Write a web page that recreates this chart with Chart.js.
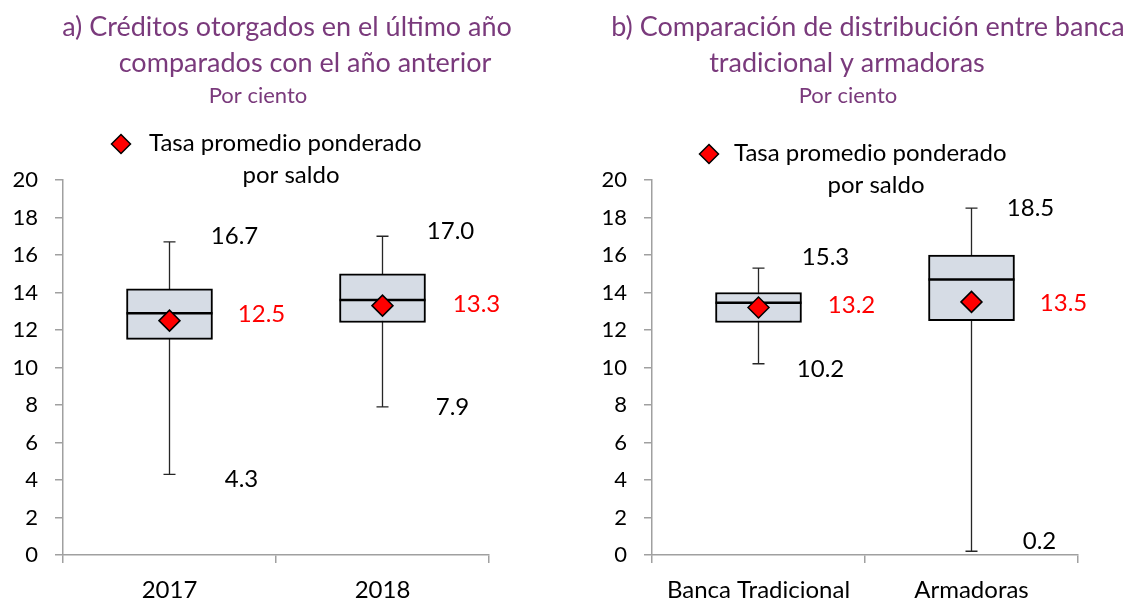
<!DOCTYPE html>
<html>
<head>
<meta charset="utf-8">
<script src="https://cdn.jsdelivr.net/npm/chart.js@4.4.1/dist/chart.umd.min.js"></script>
<style>
  html, body { margin: 0; padding: 0; background: #fff; }
  #wrap { display: flex; width: 1133px; height: 598px; overflow: hidden; }
  canvas { display: block; }
</style>
</head>
<body>
<div id="wrap">
  <canvas id="chartA" width="566" height="598"></canvas>
  <canvas id="chartB" width="567" height="598"></canvas>
</div>
<script>
// panel a) creditos del ultimo año vs año anterior
const catsA = ['2017', '2018'];
const minA = [4.3, 7.9];
const q1A = [11.5, 12.4];
const medA = [12.9, 13.6];
const q3A = [14.2, 15.0];
const maxA = [16.7, 17.0];
const meanA = [12.5, 13.3];

// panel b) banca tradicional vs armadoras
const catsB = ['Banca Tradicional', 'Armadoras'];
const minB = [10.2, 0.2];
const q1B = [12.4, 12.5];
const medB = [13.45, 14.7];
const q3B = [14.0, 16.0];
const maxB = [15.3, 18.5];
const meanB = [13.2, 13.5];

const yTicks = [0, 2, 4, 6, 8, 10, 12, 14, 16, 18, 20];

const titleA = ['a) Créditos otorgados en el último año', 'comparados con el año anterior', 'Por ciento'];
const titleB = ['b) Comparación de distribución entre banca', 'tradicional y armadoras', 'Por ciento'];
const legendText = ['Tasa promedio ponderado', 'por saldo'];

const FONT = 'Lato, "Open Sans", sans-serif';
const PURPLE = '#7a3a7c';
const GREY = '#a0a0a0';

// text offsets (px) for the value labels: [max, mean, min] per category
const labelOffA = [
  [[65, -6], [92, -6], [72, 5]],
  [[68, -5], [94, -1], [70, 0]]
];
const labelOffB = [
  [[67, -11], [93, -2], [62, 6]],
  [[59, 0], [92, 1], [68, -10]]
];

function diamond(ctx, x, y, r) {
  ctx.beginPath();
  ctx.moveTo(x, y - r); ctx.lineTo(x + r, y);
  ctx.lineTo(x, y + r); ctx.lineTo(x - r, y);
  ctx.closePath();
  ctx.fill(); ctx.stroke();
}

function makeBoxPlugin(st, layout) {
  return {
    id: 'boxParts',
    beforeDatasetsDraw(chart) {
      const ctx = chart.ctx, x = chart.scales.x, y = chart.scales.y;
      ctx.save();
      ctx.strokeStyle = '#262626';
      ctx.lineWidth = 1.3;
      st.min.forEach(function (v, i) {
        const cx = x.getPixelForValue(i);
        const yMin = y.getPixelForValue(st.min[i]);
        const yMax = y.getPixelForValue(st.max[i]);
        ctx.beginPath();
        ctx.moveTo(cx, yMin); ctx.lineTo(cx, yMax);
        ctx.moveTo(cx - 6, yMin); ctx.lineTo(cx + 6, yMin);
        ctx.moveTo(cx - 6, yMax); ctx.lineTo(cx + 6, yMax);
        ctx.stroke();
      });
      ctx.restore();
    },
    afterDatasetDraw(chart, args) {
      if (args.meta.type !== 'bar') return;
      const ctx = chart.ctx, y = chart.scales.y;
      ctx.save();
      ctx.strokeStyle = '#000';
      ctx.lineWidth = 2.5;
      args.meta.data.forEach(function (bar, i) {
        const py = y.getPixelForValue(st.med[i]);
        ctx.beginPath();
        ctx.moveTo(bar.x - bar.width / 2, py);
        ctx.lineTo(bar.x + bar.width / 2, py);
        ctx.stroke();
      });
      ctx.restore();
    },
    afterDraw(chart) {
      const ctx = chart.ctx, x = chart.scales.x, y = chart.scales.y;
      ctx.save();
      // titles
      ctx.fillStyle = PURPLE;
      ctx.textAlign = 'center';
      ctx.textBaseline = 'middle';
      layout.title.forEach(function (t, k) {
        ctx.font = (k < 2 ? '27px ' : '22px ') + FONT;
        ctx.fillText(t.text, t.x, t.y, t.w);
      });
      // legend
      const lg = layout.legend;
      ctx.fillStyle = '#ff0000';
      ctx.strokeStyle = '#000';
      ctx.lineWidth = 1.5;
      diamond(ctx, lg.dx, lg.dy, 9.5);
      ctx.fillStyle = '#000';
      ctx.font = '24px ' + FONT;
      ctx.textAlign = 'left';
      ctx.fillText(legendText[0], lg.tx, lg.ty, 284);
      ctx.textAlign = 'center';
      ctx.fillText(legendText[1], lg.sx, lg.sy);
      // value labels
      ctx.font = '24px ' + FONT;
      st.min.forEach(function (v, i) {
        const cx = x.getPixelForValue(i);
        const vals = [st.max[i], st.mean[i], st.min[i]];
        vals.forEach(function (val, k) {
          const off = layout.off[i][k];
          ctx.fillStyle = k === 1 ? '#ff0000' : '#000';
          ctx.fillText(val.toFixed(1), cx + off[0], y.getPixelForValue(val) + off[1]);
        });
      });
      ctx.restore();
    }
  };
}

function buildChart(id, cats, st, yWidth, padRight, layout) {
  const boxes = cats.map(function (c, i) { return [st.q1[i], st.q3[i]]; });
  return new Chart(document.getElementById(id), {
    type: 'bar',
    data: {
      labels: cats,
      datasets: [
        {
          type: 'bar',
          data: boxes,
          backgroundColor: '#d6dce5',
          borderColor: '#000',
          borderWidth: 2,
          borderSkipped: false,
          barThickness: 86,
          grouped: false,
          order: 2
        },
        {
          type: 'line',
          data: st.mean,
          showLine: false,
          pointStyle: 'rectRot',
          pointRadius: 10.5,
          pointBackgroundColor: '#ff0000',
          pointBorderColor: '#000',
          pointBorderWidth: 1.5,
          order: 1
        }
      ]
    },
    options: {
      responsive: false,
      animation: false,
      devicePixelRatio: 1,
      layout: { padding: { top: 180, right: padRight, left: 0, bottom: 0 } },
      plugins: { legend: { display: false }, tooltip: { enabled: false }, title: { display: false } },
      scales: {
        x: {
          offset: true,
          grid: { offset: true, drawOnChartArea: false, drawTicks: true, tickLength: 8, color: GREY, lineWidth: 1.5 },
          border: { color: GREY, width: 1.5 },
          ticks: { color: '#000', font: { family: FONT, size: 24 }, padding: 13, maxRotation: 0 },
          afterFit: function (s) { s.height = 43; }
        },
        y: {
          min: 0, max: 20,
          afterBuildTicks: function (s) { s.ticks = yTicks.map(function (v) { return { value: v }; }); },
          grid: { drawOnChartArea: false, drawTicks: true, tickLength: 8, color: GREY, lineWidth: 1.5 },
          border: { color: GREY, width: 1.5 },
          ticks: { color: '#000', font: { family: FONT, size: 22 }, padding: 17 },
          afterFit: function (s) { s.width = yWidth; }
        }
      }
    },
    plugins: [makeBoxPlugin(st, layout)]
  });
}

buildChart('chartA', catsA,
  { min: minA, q1: q1A, med: medA, q3: q3A, max: maxA, mean: meanA },
  63, 77,
  {
    title: [
      { text: titleA[0], x: 287, y: 27, w: 456 },
      { text: titleA[1], x: 305, y: 63, w: 380 },
      { text: titleA[2], x: 258, y: 96, w: 100 }
    ],
    legend: { dx: 121, dy: 144, tx: 149, ty: 143, sx: 291, sy: 175 },
    off: labelOffA
  });

buildChart('chartB', catsB,
  { min: minB, q1: q1B, med: medB, q3: q3B, max: maxB, mean: meanB },
  86, 55,
  {
    title: [
      { text: titleB[0], x: 302, y: 27, w: 521 },
      { text: titleB[1], x: 281, y: 63, w: 283 },
      { text: titleB[2], x: 282, y: 96, w: 100 }
    ],
    legend: { dx: 143, dy: 154, tx: 168, ty: 153, sx: 310, sy: 185 },
    off: labelOffB
  });
</script>
</body>
</html>
